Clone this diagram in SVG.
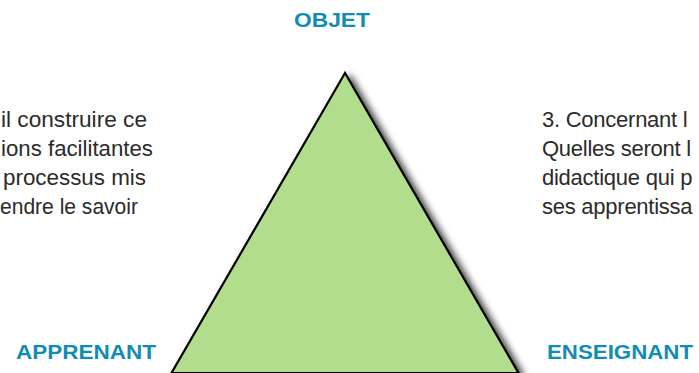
<svg xmlns="http://www.w3.org/2000/svg" width="699" height="373" viewBox="0 0 699 373">
  <style>
    .body { font-family: "Liberation Sans", Arial, sans-serif; font-size: 22px; fill: #2b2b2b; }
    .right { letter-spacing: -0.25px; }
    .label { font-family: "Liberation Sans", Arial, sans-serif; font-size: 20.5px; font-weight: bold; fill: #0f8db4; }
    .tri { fill: #b2dd8c; stroke: #000; stroke-width: 2.2; stroke-linejoin: miter; }
  </style>
  <defs>
    <filter id="shadow" x="-20%" y="-20%" width="140%" height="140%">
      <feDropShadow dx="5" dy="3" stdDeviation="3.5" flood-color="#000" flood-opacity="0.75"/>
    </filter>
  </defs>
  <rect x="0" y="0" width="699" height="373" fill="#ffffff"/>

  <g id="triangle">
    <polygon class="tri" filter="url(#shadow)" points="345,73 171.5,373 518.5,373"/>
  </g>

  <g id="objet">
    <text class="label" x="294" y="27" textLength="76" lengthAdjust="spacingAndGlyphs">OBJET</text>
  </g>
  <g id="apprenant">
    <text class="label" x="16" y="359" textLength="140" lengthAdjust="spacingAndGlyphs">APPRENANT</text>
  </g>
  <g id="enseignant">
    <text class="label" x="547" y="359" textLength="146" lengthAdjust="spacingAndGlyphs">ENSEIGNANT</text>
  </g>

  <g id="left-text">
    <text class="body" x="1" y="127" textLength="146" lengthAdjust="spacingAndGlyphs">il construire ce</text>
    <text class="body" x="1" y="156" textLength="152" lengthAdjust="spacingAndGlyphs">ions facilitantes</text>
    <text class="body" x="3" y="185" textLength="143" lengthAdjust="spacingAndGlyphs">processus mis</text>
    <text class="body" x="0" y="214" textLength="138" lengthAdjust="spacingAndGlyphs">endre le savoir</text>
  </g>

  <g id="right-text">
    <text class="body right" x="542" y="127">3. Concernant l</text>
    <text class="body right" x="542" y="156">Quelles seront l</text>
    <text class="body right" x="542" y="185">didactique qui p</text>
    <text class="body right" x="542" y="214">ses apprentissa</text>
  </g>
</svg>
